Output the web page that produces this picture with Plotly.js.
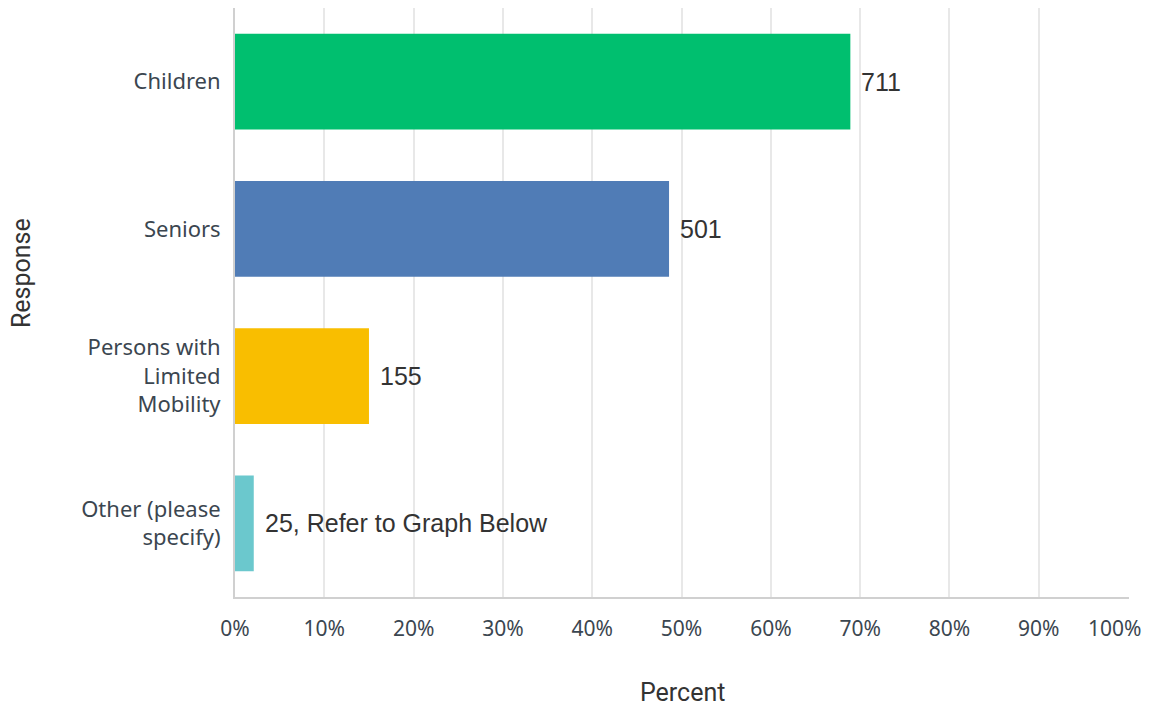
<!DOCTYPE html>
<html><head><meta charset="utf-8">
<script src="https://cdn.plot.ly/plotly-3.0.1.min.js"></script>
<style>html,body{margin:0;padding:0;background:#fff}#chart{width:1150px;height:706px}</style>
</head><body><div id="chart"></div>
<script>
const categories = ["Children", "Seniors", "Persons with<br>Limited<br>Mobility", "Other (please<br>specify)"];
const percents = [68.9, 48.6, 15.0, 2.1];
const labels = ["711", "501", "155", "25, Refer to Graph Below"];
const colors = ["#00bf6f", "#507cb6", "#f9be00", "#6bc8cd"];
const xTicks = [0,10,20,30,40,50,60,70,80,90,100];
const xTickLabels = xTicks.map(v => v + "%");

const last = xTicks.length - 1;
// the last tick label is drawn as an annotation so it can sit inside the page, as in the reference
const xTickText = xTickLabels.map((t, i) => i === last ? "" : t);
const tickFont = {family: "Noto Sans, Open Sans, sans-serif", size: 21, color: "#3b4650"};

const trace = {
  type: "bar", orientation: "h",
  x: percents, y: categories,
  marker: {color: colors},
  width: 0.65,
  hoverinfo: "none"
};
const annotations = percents.map((p, i) => ({
  x: p, y: categories[i], xref: "x", yref: "y",
  text: labels[i], showarrow: false, xanchor: "left", xshift: 9,
  font: {family: "Liberation Sans, Arial, sans-serif", size: 25, color: "#333333"}
}));
annotations.push({
  text: xTickLabels[last], xref: "x", yref: "paper", x: xTicks[last], y: 0,
  xanchor: "right", yanchor: "middle", xshift: 16, yshift: -31, showarrow: false,
  font: tickFont
});
annotations.push({
  text: "Response", xref: "paper", yref: "paper", x: 0, y: 0.55,
  xanchor: "center", yanchor: "middle",
  xshift: -214, textangle: -90, showarrow: false,
  font: {family: "Roboto, Liberation Sans, sans-serif", size: 25, color: "#333333"}
});
annotations.push({
  text: "Percent", xref: "paper", yref: "paper", x: 0.5, y: 0,
  xanchor: "center", yanchor: "middle",
  yshift: -95, showarrow: false,
  font: {family: "Roboto, Liberation Sans, sans-serif", size: 25, color: "#333333"}
});
const layout = {
  width: 1150, height: 706,
  margin: {l: 235, r: 21, t: 8, b: 109},
  paper_bgcolor: "#fff", plot_bgcolor: "#fff",
  showlegend: false,
  xaxis: {
    range: [0, 100.1], tickvals: xTicks, ticktext: xTickText,
    showgrid: true, gridcolor: "#e8e8e8", gridwidth: 2,
    zeroline: false, showline: true, linecolor: "#d0d0d0", linewidth: 2,
    ticks: "", ticklabelstandoff: 12,
    tickfont: tickFont,
    fixedrange: true
  },
  yaxis: {
    autorange: "reversed", showgrid: false, zeroline: false,
    showline: true, linecolor: "#d0d0d0", linewidth: 2,
    ticks: "", ticklabelstandoff: 8,
    tickfont: {family: "Noto Sans, Open Sans, sans-serif", size: 22, color: "#3b4650"},
    fixedrange: true
  },
  annotations: annotations
};
Plotly.newPlot("chart", [trace], layout, {displayModeBar: false, staticPlot: true});
</script></body></html>
